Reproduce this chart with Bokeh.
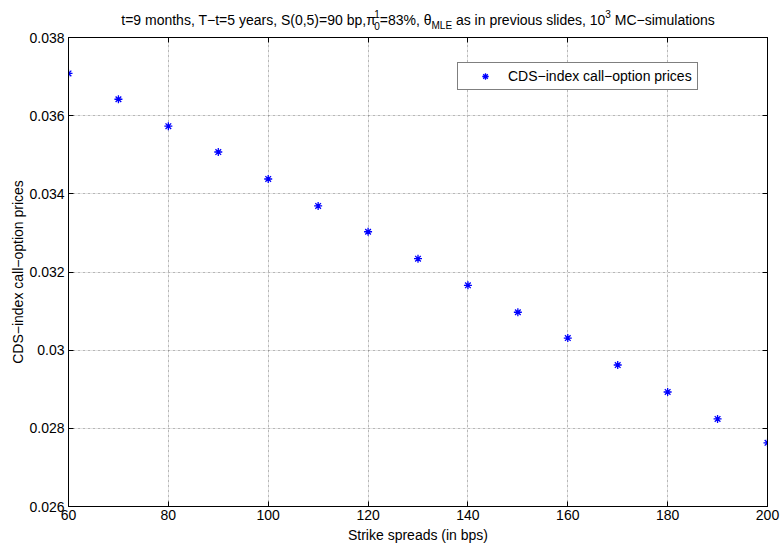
from bokeh.plotting import figure
from bokeh.layouts import column
from bokeh.models import (Range1d, FixedTicker, LinearAxis, Legend, Grid,
                          LegendItem, CustomJSTickFormatter, ColumnDataSource)
from bokeh.core.properties import value
from bokeh.embed import file_html
from bokeh.resources import INLINE

# ---- data ----
strikes = [60, 70, 80, 90, 100, 110, 120, 130, 140, 150, 160, 170, 180, 190, 200]
prices = [0.03708, 0.03642, 0.03573, 0.03507, 0.03438, 0.03369, 0.03303, 0.03234,
          0.03166, 0.03097, 0.03031, 0.02962, 0.02893, 0.02824, 0.02763]
x_ticks = [60, 80, 100, 120, 140, 160, 180, 200]
y_ticks = [0.026, 0.028, 0.03, 0.032, 0.034, 0.036, 0.038]
y_tick_labels = ["0.026", "0.028", "0.03", "0.032", "0.034", "0.036", "0.038"]
series_name = "CDS\u2212index call\u2212option prices"
x_label = "Strike spreads (in bps)"
y_label = "CDS\u2212index call\u2212option prices"
title_parts = [
    ("t=9 months, T\u2212t=5 years, S(0,5)=90 bp,\u03c0", "main"),
    ("0", "sub"), ("1", "sup_stack"),
    ("=83%, \u03b8", "main"),
    ("MLE", "sub"),
    (" as in previous slides, 10", "main"),
    ("3", "sup"),
    (" MC\u2212simulations", "main"),
]

FONT = "Liberation Sans"
MAIN = 14
SMALL = 10
W = {' ': 278, '%': 889, '(': 333, ')': 333, ',': 278, '.': 278, '=': 584,
     '\u2212': 584, 'C': 722, 'E': 667, 'L': 556, 'M': 833, 'S': 667, 'T': 611,
     'a': 556, 'b': 556, 'c': 500, 'd': 556, 'e': 556, 'h': 556, 'i': 222,
     'l': 222, 'm': 833, 'n': 556, 'o': 556, 'p': 556, 'r': 333, 's': 500,
     't': 278, 'u': 556, 'v': 500, 'y': 500, '\u03c0': 556, '\u03b8': 556}


def tw(s, size):
    return sum(W.get(c, 556) for c in s) * size / 1000.0


CW, CH = 781, 545
TH = 30                       # title strip height
LEFT, RIGHT, BOTTOM = 68, 14, 37
TOP = 37 - TH

# ---------------- title strip (data units == canvas pixels) ----------------
t = figure(width=CW, height=TH, output_backend="svg", toolbar_location=None,
           title=None, x_range=Range1d(LEFT, CW - RIGHT), y_range=Range1d(0, TH),
           x_axis_location=None, y_axis_location=None,
           min_border_left=LEFT, min_border_right=RIGHT, min_border_top=0,
           min_border_bottom=0)
t.grid.visible = False
t.outline_line_color = None
t.background_fill_color = "white"
t.border_fill_color = "white"

widths = []
for txt, kind in title_parts:
    if kind == "main":
        widths.append(tw(txt, MAIN))
    elif kind == "sup_stack":
        widths.append(0.0)
    else:
        widths.append(tw(txt, SMALL))
total = sum(widths)
center = LEFT + (CW - LEFT - RIGHT) / 2.0
cur = center - total / 2.0
base = TH - 19
xs, ys, txts, sizes = [], [], [], []
prev_w = 0.0
for (txt, kind), w in zip(title_parts, widths):
    fs = MAIN if kind == "main" else SMALL
    stripped = txt.lstrip(" ")
    lead = tw(" " * (len(txt) - len(stripped)), fs)
    if kind == "main":
        xs.append(cur + lead); ys.append(base)
    elif kind == "sub":
        xs.append(cur + lead); ys.append(base - 6)
    elif kind == "sup_stack":
        xs.append(cur - prev_w); ys.append(base + 6)
    else:
        xs.append(cur + lead); ys.append(base + 6)
    sizes.append("%dpx" % fs)
    txts.append(stripped)
    cur += w
    prev_w = w
tsrc = ColumnDataSource(dict(x=xs, y=ys, text=txts, size=sizes))
t.text(x="x", y="y", text="text", source=tsrc, text_font=value(FONT),
       text_font_size="size", text_color="black", text_align="left",
       text_baseline="alphabetic")

# ---------------- main plot ----------------
p = figure(width=CW, height=CH - TH, output_backend="svg", toolbar_location=None,
           title=None, x_range=Range1d(60, 200), y_range=Range1d(0.026, 0.038),
           min_border_left=LEFT, min_border_right=RIGHT, min_border_top=TOP,
           min_border_bottom=BOTTOM, x_axis_location=None, y_axis_location=None)
p.background_fill_color = "white"
p.border_fill_color = "white"
p.outline_line_color = "black"
p.outline_line_width = 1

fmt_empty = CustomJSTickFormatter(code="return ''")


def style_axis(ax, ticks, labels=True):
    ax.ticker = FixedTicker(ticks=ticks)
    ax.major_tick_in = 5
    ax.major_tick_out = 0
    ax.minor_tick_line_color = None
    ax.axis_line_color = "black"
    ax.major_tick_line_color = "black"
    ax.major_label_text_font = FONT
    ax.major_label_text_font_size = "%dpx" % MAIN
    ax.major_label_text_color = "black"
    if not labels:
        ax.formatter = fmt_empty
        ax.major_label_standoff = 0
        ax.major_label_text_font_size = "0px"


xb = LinearAxis()
yl = LinearAxis()
xt = LinearAxis()
yr = LinearAxis()
p.add_layout(xb, "below")
p.add_layout(yl, "left")
p.add_layout(xt, "above")
p.add_layout(yr, "right")
style_axis(xb, x_ticks)
style_axis(yl, y_ticks)
style_axis(xt, x_ticks, labels=False)
style_axis(yr, y_ticks, labels=False)
xb.major_label_standoff = 3
yl.major_label_standoff = 4
yl.major_label_overrides = {tk: lb for tk, lb in zip(y_ticks, y_tick_labels)}
for ax, lab, so in ((xb, x_label, 4), (yl, y_label, 0)):
    ax.axis_label = lab
    ax.axis_label_text_font = FONT
    ax.axis_label_text_font_size = "%dpx" % MAIN
    ax.axis_label_text_font_style = "normal"
    ax.axis_label_text_color = "black"
    ax.axis_label_standoff = so

gx = Grid(dimension=0, ticker=FixedTicker(ticks=x_ticks), grid_line_color="black",
          grid_line_alpha=0.4, grid_line_dash="1 4", grid_line_width=1)
gy = Grid(dimension=1, ticker=FixedTicker(ticks=y_ticks), grid_line_color="black",
          grid_line_alpha=0.4, grid_line_dash="1 4", grid_line_width=1)
p.add_layout(gx)
p.add_layout(gy)

src = ColumnDataSource(dict(x=strikes, y=prices))
r = p.scatter("x", "y", source=src, marker="asterisk", size=8, line_color="#0000ff",
              line_width=1.3)

leg = Legend(items=[LegendItem(label=series_name, renderers=[r])],
             location=(389, 416), orientation="vertical", margin=0, padding=5,
             spacing=0, glyph_width=44, glyph_height=16, label_height=16,
             label_standoff=1, label_text_font=FONT,
             label_text_font_size="%dpx" % MAIN, label_text_color="black",
             border_line_color="black", border_line_width=1,
             background_fill_color="white", background_fill_alpha=1.0)
p.add_layout(leg, "center")

layout = column(t, p, spacing=0)
open("out.html", "w").write(file_html(layout, INLINE))
